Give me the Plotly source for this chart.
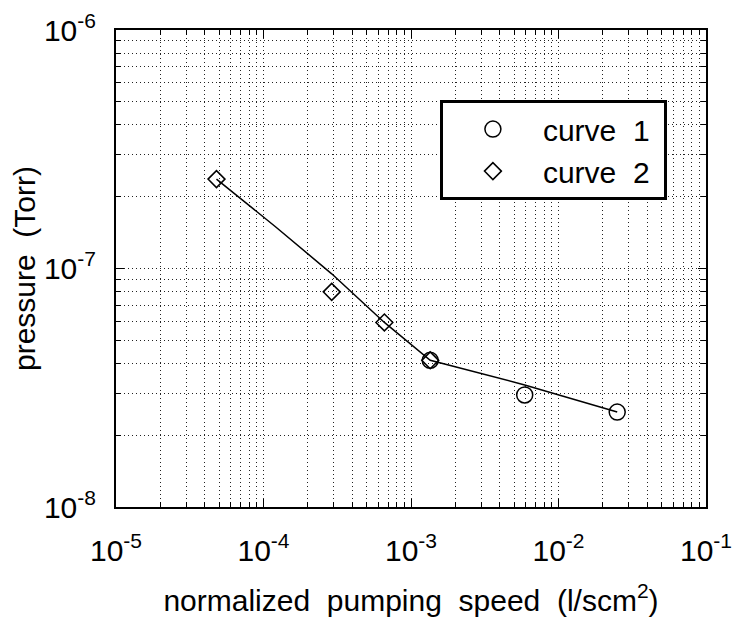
import plotly.graph_objects as go

# measured points
curve1_x = [1.35e-3, 5.9e-3, 2.5e-2]
curve1_y = [4.12e-8, 2.95e-8, 2.5e-8]

curve2_x = [4.8e-5, 2.9e-4, 6.6e-4, 1.35e-3]
curve2_y = [2.37e-7, 7.98e-8, 5.94e-8, 4.12e-8]

# fitted line drawn through the data
fit_x = [4.8e-5, 1.2e-4, 2.9e-4, 6.6e-4, 1.35e-3, 5.9e-3, 2.5e-2]
fit_y = [2.37e-7, 1.5e-7, 9.5e-8, 5.94e-8, 4.12e-8, 3.25e-8, 2.5e-8]

x_ticks = [1e-5, 1e-4, 1e-3, 1e-2, 1e-1]
x_labels = ['10<sup>-5</sup>', '10<sup>-4</sup>', '10<sup>-3</sup>', '10<sup>-2</sup>', '10<sup>-1</sup>']
y_ticks = [1e-8, 1e-7, 1e-6]
y_labels = ['10<sup>-8</sup>', '10<sup>-7</sup>', '10<sup>-6</sup>']

# minor grid at 2..9 in every decade
x_minor = [m * 10.0 ** e for e in range(-5, -1) for m in range(2, 10)]
y_minor = [m * 10.0 ** e for e in range(-8, -6) for m in range(2, 10)]

font = "Liberation Sans, Arial, sans-serif"

fig = go.Figure()
fig.add_trace(go.Scatter(x=fit_x, y=fit_y, mode='lines', line=dict(color='black', width=1.5),
                         showlegend=False, hoverinfo='skip'))
fig.add_trace(go.Scatter(x=curve1_x, y=curve1_y, mode='markers', name='curve  1\u00a0',
                         marker=dict(symbol='circle-open', size=16, color='black', line=dict(width=1.5))))
fig.add_trace(go.Scatter(x=curve2_x, y=curve2_y, mode='markers', name='curve  2\u00a0',
                         marker=dict(symbol='diamond-open', size=13, color='black', line=dict(width=1.5))))

grid = dict(showgrid=True, gridcolor='#222', gridwidth=1, griddash='1px,3px')

fig.update_xaxes(type='log', range=[-5, -1], tickvals=x_ticks, ticktext=x_labels,
                 ticks='inside', ticklen=8, tickcolor='black', mirror='ticks',
                 showline=True, linecolor='black', linewidth=2,
                 ticklabelstandoff=16, automargin=False,
                 tickfont=dict(size=30, color='black', family=font),
                 title=dict(text='normalized  pumping  speed  (l/scm<sup>2</sup>)',
                            font=dict(size=30, color='black', family=font), standoff=24),
                 minor=dict(tickvals=x_minor, ticks='inside', ticklen=5, tickcolor='black', **grid),
                 zeroline=False, **grid)
fig.update_yaxes(type='log', range=[-8, -6], tickvals=y_ticks, ticktext=y_labels,
                 ticks='inside', ticklen=8, tickcolor='black', mirror='ticks',
                 showline=True, linecolor='black', linewidth=2,
                 ticklabelstandoff=12, automargin=False,
                 tickfont=dict(size=30, color='black', family=font),
                 title=dict(text='pressure  (Torr)',
                            font=dict(size=30, color='black', family=font), standoff=4),
                 minor=dict(tickvals=y_minor, ticks='inside', ticklen=5, tickcolor='black', **grid),
                 zeroline=False, **grid)

# the page body adds an 8px offset, so margins are shifted to compensate
fig.update_layout(
    width=747, height=626,
    margin=dict(l=108, r=49, t=22, b=127),
    paper_bgcolor='white', plot_bgcolor='white',
    font=dict(family=font, color='black'),
    legend=dict(x=0.549, y=0.853, xanchor='left', yanchor='top',
                bgcolor='white', bordercolor='black', borderwidth=3,
                font=dict(size=30, color='black', family=font),
                itemwidth=90, tracegroupgap=0),
)

fig.write_html("out.html")
